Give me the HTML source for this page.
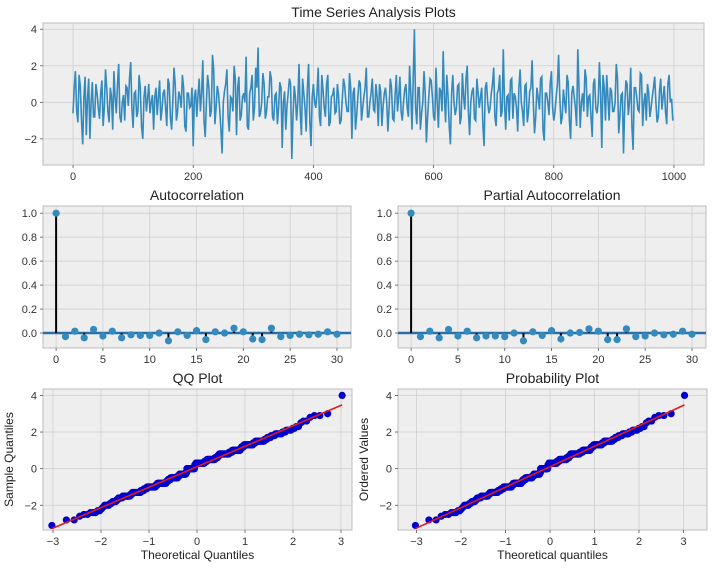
<!DOCTYPE html>
<html><head><meta charset="utf-8"><style>
html,body{margin:0;padding:0;background:#fff;}
svg{display:block;font-family:"Liberation Sans","DejaVu Sans",sans-serif;}
</style></head><body>
<svg id="fig" width="712" height="568" viewBox="0 0 712 568" xmlns="http://www.w3.org/2000/svg"></svg>
<script>
// Time series values: even samples
const seriesValuesA = [
-0.6,1.7,-1.1,0.9,-2.3,1.4,0.2,-2.0,1.1,-0.8,
0.5,-0.9,1.2,-0.3,0.8,-1.1,0.3,1.7,-0.6,2.1,
-1.1,0.4,0.9,-0.2,2.2,-1.4,0.6,-0.5,0.8,-2.0,
0.9,0.2,-0.6,0.4,0.3,-0.7,1.2,-0.4,0.7,-1.3,
1.0,-1.5,1.9,-1.0,0.6,-0.3,0.8,-1.6,0.5,-0.2,
-2.4,0.7,0.4,-0.5,2.3,-1.9,1.5,-0.8,2.6,-1.2,
0.9,-0.4,-2.8,0.6,1.8,-1.6,0.2,2.0,-1.8,1.4,
-0.7,0.5,2.5,-1.5,0.8,-1.0,1.9,3.0,-0.6,1.6,
-0.9,0.3,1.7,-0.8,0.4,-1.2,1.1,-2.5,0.6,-0.2,
1.3,-3.1,0.9,-1.0,2.1,-1.8,0.5,-1.6,2.1,-2.4,
1.0,-0.3,1.9,-1.3,0.7,-0.8,1.5,-1.1,0.4,-0.6,
1.0,-1.2,0.2,0.9,-0.5,1.6,-2.0,0.8,-0.7,1.2,
-1.0,0.3,1.9,-0.8,0.5,-0.4,1.0,-1.3,0.6,-0.2,
0.8,-1.6,1.3,-0.9,0.4,-0.5,1.4,-1.0,0.7,-0.3,
2.0,-1.5,4.0,-1.2,0.8,-0.6,1.7,-2.2,0.3,1.2,
-0.8,1.9,-1.4,0.6,2.8,-1.1,0.4,-2.3,1.5,-0.7,
0.9,-1.2,1.6,-0.4,2.0,-1.8,0.6,-0.9,1.3,-0.3,
0.8,-2.4,1.1,-0.6,0.5,1.9,-1.3,0.7,-0.8,2.9,
-1.5,0.4,1.2,-0.9,0.3,-1.6,1.8,-0.5,0.9,-1.1,
0.6,2.3,-1.7,0.8,-0.4,1.4,-2.1,0.5,-0.7,1.7,
-1.0,0.3,2.6,-1.2,0.7,-0.6,1.1,-2.0,0.9,-0.3,
2.9,-1.4,0.5,1.8,-0.8,0.4,-1.9,1.3,-0.6,2.2,
-2.5,0.8,1.5,-1.0,0.6,-0.5,2.1,-1.7,0.4,-2.8,
1.2,-0.7,1.9,-2.6,0.8,-0.4,1.6,-1.3,0.5,1.0,
-0.8,0.3,1.4,-1.1,0.6,-0.4,0.9,-1.2,1.5,0.2
];
// Time series values: odd samples (in between)
const seriesValuesB = [
0.8,-0.5,1.5,-1.0,0.3,-1.8,1.3,0.0,-0.8,1.0,
-0.3,0.5,-1.3,1.8,-0.5,0.8,-1.5,0.3,1.0,-0.8,
0.0,-1.0,0.8,1.3,-0.3,0.5,-0.8,1.5,-1.3,0.3,
-0.5,1.0,0.0,-1.5,0.8,0.3,-1.0,0.5,-0.3,1.3,
-0.8,0.0,1.0,-0.5,0.3,1.5,-1.3,0.5,-0.3,0.8,
0.3,-0.8,1.3,0.5,-1.0,0.0,0.8,-0.5,1.8,-0.3,
0.5,-1.5,0.0,1.0,-0.8,0.3,-0.5,1.3,0.8,-1.0,
0.3,0.0,-1.3,0.5,1.5,-0.3,0.8,-0.8,0.0,1.0,
-0.5,0.3,1.3,-1.0,0.5,-0.3,0.8,0.0,-1.5,0.5,
1.0,-0.8,0.3,0.0,-0.5,1.3,-0.3,0.8,-1.0,0.3,
0.0,0.5,-0.8,1.5,-0.3,1.0,-1.3,0.3,0.8,-0.5,
0.3,-1.0,1.3,0.0,-0.5,0.8,0.5,-1.5,0.3,1.0,
-0.3,0.8,-0.8,0.0,1.3,-0.5,0.3,1.0,-1.3,0.5,
0.0,-0.3,0.8,-1.0,1.5,0.3,-0.5,0.0,1.0,-0.8,
0.5,1.3,-0.3,0.8,-1.5,0.0,0.5,-0.8,1.3,0.3,
-1.0,0.0,0.8,-0.5,0.3,1.5,-1.3,0.5,0.0,-0.3,
1.0,-0.8,0.3,1.3,-0.5,0.0,0.8,-1.0,0.5,0.3,
-1.3,0.8,0.0,-0.3,1.0,-0.8,0.5,1.5,-0.5,0.0,
0.3,-1.0,1.3,0.5,-0.3,0.8,0.0,-1.3,1.0,-0.5,
0.8,0.0,-0.8,0.3,1.3,-1.5,0.5,0.0,1.0,-0.3,
-0.5,1.0,0.3,-0.8,0.0,1.5,-1.0,0.5,0.3,-1.3,
0.8,0.0,-0.5,1.3,0.3,-0.8,1.0,-0.3,0.0,0.5,
1.5,-1.0,0.3,0.8,-0.5,0.0,1.3,-0.8,0.5,-0.3,
1.0,0.0,-1.3,0.8,0.3,-0.5,1.5,0.0,-1.0,0.5,
-0.3,0.8,0.0,-0.8,1.3,0.3,-0.5,1.0,0.0,-1.0
];
const seriesStep = 2;
const tsXTicks = [0,200,400,600,800,1000];
const tsYTicks = [-2,0,2,4];
const acfLags = [0,1,2,3,4,5,6,7,8,9,10,11,12,13,14,15,16,17,18,19,20,21,22,23,24,25,26,27,28,29,30];
const acfValues = [1,-0.03,0.015,-0.04,0.03,-0.025,0.015,-0.04,-0.015,-0.02,-0.02,0,-0.065,0.01,-0.02,0.02,-0.055,0.01,0,0.04,0.01,-0.05,-0.055,0.04,-0.03,-0.02,-0.01,-0.015,-0.01,0.01,-0.01];
const pacfValues = [1,-0.03,0.015,-0.04,0.03,-0.025,0.015,-0.04,-0.025,-0.025,-0.03,0,-0.065,0.01,-0.02,0.02,-0.05,0,0.005,0.035,0.015,-0.055,-0.055,0.035,-0.03,-0.025,0,-0.015,-0.01,0.015,-0.01];
const lagTicks = [0,5,10,15,20,25,30];
const acfYTicks = [0,0.2,0.4,0.6,0.8,1.0];
const acfYLabels = ["0.0","0.2","0.4","0.6","0.8","1.0"];
const qqXTicks = [-3,-2,-1,0,1,2,3];
const qqYTicks = [-2,0,2,4];

const seriesValues = [];
seriesValuesA.forEach((v,i)=>{seriesValues.push(v);if(i<seriesValuesB.length)seriesValues.push(seriesValuesB[i]);});

const NS="http://www.w3.org/2000/svg";
const fig=document.getElementById('fig');
function mk(tag,attrs,parent){const e=document.createElementNS(NS,tag);for(const k in attrs)e.setAttribute(k,attrs[k]);(parent||fig).appendChild(e);return e;}
function fmt(v){return v<0?"\u2212"+Math.abs(v):String(v);}

function axes(name,L,R,T,B,x0,x1,y0,y1,title){
  const g=mk('g',{});
  
  
  const bg=mk('rect',{x:L,y:T,width:R-L,height:B-T,fill:'#eeeeee',stroke:'#bcbcbc','stroke-width':1},g);
  
  
  const t=mk('text',{x:(L+R)/2,y:T-6,'text-anchor':'middle','font-size':14,fill:'#222'},g);
  t.textContent=title;
  
  
  return {g,L,R,T,B,sx:v=>L+(v-x0)/(x1-x0)*(R-L),sy:v=>B-(v-y0)/(y1-y0)*(B-T)};
}
function ticks(a,xt,yt,xl,yl){
  xt.forEach((v,i)=>{const x=a.sx(v);
    const gl=mk('line',{x1:x,x2:x,y1:a.T,y2:a.B,stroke:'#cfcfcf','stroke-width':0.8},a.g);
    
    mk('line',{x1:x,x2:x,y1:a.B,y2:a.B+3,stroke:'#555','stroke-width':0.8},a.g);
    const t=mk('text',{x:x,y:a.B+15,'text-anchor':'middle','font-size':11,fill:'#333'},a.g);
    t.textContent=xl?xl[i]:fmt(v);
    });
  yt.forEach((v,i)=>{const y=a.sy(v);
    const gl=mk('line',{x1:a.L,x2:a.R,y1:y,y2:y,stroke:'#cfcfcf','stroke-width':0.8},a.g);
    
    mk('line',{x1:a.L-3,x2:a.L,y1:y,y2:y,stroke:'#555','stroke-width':0.8},a.g);
    const t=mk('text',{x:a.L-6,y:y+4,'text-anchor':'end','font-size':11,fill:'#333'},a.g);
    t.textContent=yl?yl[i]:fmt(v);
    });
}
function label(a,text,kind){
  let t;
  if(kind==='x'){t=mk('text',{x:(a.L+a.R)/2,y:a.B+29,'text-anchor':'middle','font-size':12,fill:'#222'},a.g);}
  else{const cx=a.L-30,cy=(a.T+a.B)/2;t=mk('text',{x:cx,y:cy,'text-anchor':'middle','font-size':12,fill:'#222',transform:`rotate(-90 ${cx} ${cy})`},a.g);}
  t.textContent=text;
}

// Top: time series
const ts=axes('time-series-plot',43,704,23,165,-50,1050,-3.43,4.34,'Time Series Analysis Plots');
ticks(ts,tsXTicks,tsYTicks);
const tsPath=mk('path',{d:seriesValues.map((v,i)=>(i?'L':'M')+ts.sx(i*seriesStep).toFixed(1)+','+ts.sy(v).toFixed(1)).join(''),fill:'none',stroke:'#348ABD','stroke-width':1.6},ts.g);



// ACF / PACF
function stem(name,L,title,vals){
  const a=axes(name,L,L+308,206,348,-1.4,31.5,-0.125,1.06,title);
  ticks(a,lagTicks,acfYTicks,null,acfYLabels);
  const z=mk('line',{x1:a.L,x2:a.R,y1:a.sy(0),y2:a.sy(0),stroke:'#2a6fa8','stroke-width':2.5},a.g);
  
  acfLags.forEach((lag,i)=>{const x=a.sx(lag),y=a.sy(vals[i]);
    const s=mk('line',{x1:x,x2:x,y1:a.sy(0),y2:y,stroke:'#000','stroke-width':2},a.g);
    
    const c=mk('circle',{cx:x,cy:y,r:3.6,fill:'#348ABD'},a.g);
    });
}
stem('autocorrelation-plot',43,'Autocorrelation',acfValues);
stem('partial-autocorrelation-plot',398,'Partial Autocorrelation',pacfValues);

// normal ppf (Acklam)
function ppf(p){const a=[-39.6968302866538,220.946098424521,-275.928510446969,138.357751867269,-30.6647980661472,2.50662827745924],b=[-54.4764798474005,161.585836858041,-155.698979859887,66.8013118877197,-13.2806815528857],c=[-0.00778489400243029,-0.322396458041136,-2.40075827716184,-2.54973253934373,4.37466414146497,2.93816398269878],d=[0.00778469570904146,0.32246712907004,2.445134137143,3.75440866190742];let q,r;if(p<0.02425){q=Math.sqrt(-2*Math.log(p));return(((((c[0]*q+c[1])*q+c[2])*q+c[3])*q+c[4])*q+c[5])/((((d[0]*q+d[1])*q+d[2])*q+d[3])*q+1);}if(p>1-0.02425){q=Math.sqrt(-2*Math.log(1-p));return-(((((c[0]*q+c[1])*q+c[2])*q+c[3])*q+c[4])*q+c[5])/((((d[0]*q+d[1])*q+d[2])*q+d[3])*q+1);}q=p-0.5;r=q*q;return(((((a[0]*r+a[1])*r+a[2])*r+a[3])*r+a[4])*r+a[5])*q/(((((b[0]*r+b[1])*r+b[2])*r+b[3])*r+b[4])*r+1);}

function qq(name,L,R,x0,x1,title,xt,yt){
  const a=axes(name,L,R,389,530,x0,x1,-3.35,4.35,title);
  ticks(a,qqXTicks,qqYTicks);
  label(a,xt,'x');label(a,yt,'y');
  const s=seriesValues.slice().sort((p,q)=>p-q),n=s.length;
  const th=s.map((v,i)=>ppf((i+1-0.375)/(n+0.25)));
  const mx=th.reduce((p,q)=>p+q,0)/n,my=s.reduce((p,q)=>p+q,0)/n;
  let sxy=0,sxx=0;th.forEach((t,i)=>{sxy+=(t-mx)*(s[i]-my);sxx+=(t-mx)*(t-mx);});
  const k=sxy/sxx,b0=my-k*mx;
  s.forEach((v,i)=>{const c=mk('circle',{cx:a.sx(th[i]),cy:a.sy(v),r:3.6,fill:'#0000cc'},a.g);
    });
  const t0=th[0],t1=th[n-1];
  const ln=mk('line',{x1:a.sx(t0),y1:a.sy(b0+k*t0),x2:a.sx(t1),y2:a.sy(b0+k*t1),stroke:'#e41a1c','stroke-width':1.6},a.g);
  
}
qq('qq-plot',43,352,-(197-43)/48,(352-197)/48,'QQ Plot','Theoretical Quantiles','Sample Quantiles');
qq('probability-plot',398,707,-(550-398)/44.5,(707-550)/44.5,'Probability Plot','Theoretical quantiles','Ordered Values');
</script>
</body></html>
